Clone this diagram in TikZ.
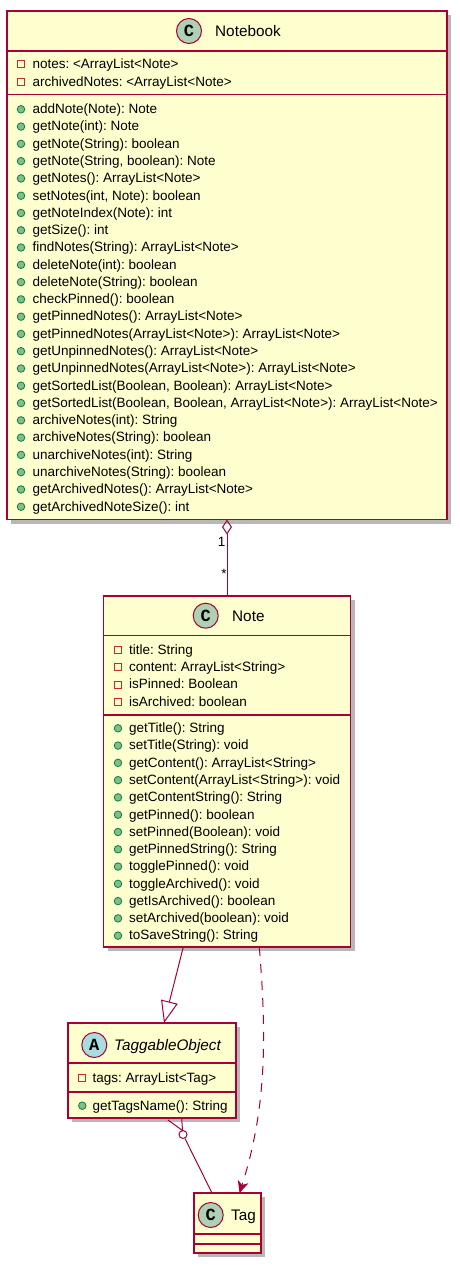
\documentclass[tikz,border=0pt]{standalone}
\usepackage{fontspec}
\setmainfont{Liberation Sans}
\newfontfamily\spotfont{Liberation Mono}
\usetikzlibrary{arrows.meta,shadows}
\definecolor{umlred}{HTML}{A80036}
\definecolor{umlfill}{HTML}{FEFECE}
\definecolor{spotC}{HTML}{ADD1B2}
\definecolor{spotA}{HTML}{A9DCDF}
\definecolor{privred}{HTML}{C82930}
\definecolor{pubfill}{HTML}{84BE84}
\definecolor{pubdraw}{HTML}{038048}
\frenchspacing
\begin{document}
\begin{tikzpicture}[x=1pt,y=-1pt,
 cls/.style={draw=umlred, fill=umlfill, line width=1.5pt, inner sep=0, outer sep=0,
   drop shadow={shadow xshift=4pt, shadow yshift=-4pt, fill=black, opacity=0.28}},
 sepline/.style={draw=umlred, line width=1.5pt},
 mem/.style={anchor=base west, inner sep=0, font=\fontsize{13.5}{15}\selectfont},
 ttl/.style={anchor=base west, inner sep=0, font=\fontsize{15.3}{18}\selectfont},
 spot/.style={circle, draw=umlred, line width=1pt, minimum size=25pt, inner sep=0,
   font=\spotfont\bfseries\fontsize{17}{17}\selectfont},
 priv/.style={draw=privred, line width=1pt, minimum size=7pt, inner sep=0},
 pub/.style={circle, draw=pubdraw, fill=pubfill, line width=0.8pt, minimum size=7.5pt, inner sep=0},
 link/.style={draw=umlred, line width=1pt},
 dashline/.style={dash pattern=on 9pt off 8pt},
 lbl/.style={inner sep=0, font=\fontsize{13.5}{15}\selectfont},
]
\useasboundingbox (0,0) rectangle (460,1266);

% ---------------- Notebook ----------------
\node[cls, minimum width=440pt, minimum height=508.5pt] (nb) at (227,265.25) {};
\draw[sepline] (nb.west |- 0,51) -- (nb.east |- 0,51);
\draw[sepline] (nb.west |- 0,94.3) -- (nb.east |- 0,94.3);
\node[spot, fill=spotC] (nbspot) at (189,31) {C};
\node[ttl] (nbtitle) at (215,36.3) {Notebook};
\foreach \t [count=\i] in {{notes: <ArrayList<Note>}, {archivedNotes: <ArrayList<Note>}} {
  \node[priv] (nbai\i) at (21,{64.3+17.28*(\i-1)}) {};
  \node[mem] (nba\i) at (32.3,{68.8+17.28*(\i-1)}) {\t};
}
\foreach \t [count=\i] in {
 {addNote(Note): Note},
 {getNote(int): Note},
 {getNote(String): boolean},
 {getNote(String, boolean): Note},
 {getNotes(): ArrayList<Note>},
 {setNotes(int, Note): boolean},
 {getNoteIndex(Note): int},
 {getSize(): int},
 {findNotes(String): ArrayList<Note>},
 {deleteNote(int): boolean},
 {deleteNote(String): boolean},
 {checkPinned(): boolean},
 {getPinnedNotes(): ArrayList<Note>},
 {getPinnedNotes(ArrayList<Note>): ArrayList<Note>},
 {getUnpinnedNotes(): ArrayList<Note>},
 {getUnpinnedNotes(ArrayList<Note>): ArrayList<Note>},
 {getSortedList(Boolean, Boolean): ArrayList<Note>},
 {getSortedList(Boolean, Boolean, ArrayList<Note>): ArrayList<Note>},
 {archiveNotes(int): String},
 {archiveNotes(String): boolean},
 {unarchiveNotes(int): String},
 {unarchiveNotes(String): boolean},
 {getArchivedNotes(): ArrayList<Note>},
 {getArchivedNoteSize(): int}} {
  \node[pub] (nbmi\i) at (21,{109.3+17.28*(\i-1)}) {};
  \node[mem] (nbm\i) at (32.3,{113.6+17.28*(\i-1)}) {\t};
}

% ---------------- Note ----------------
\node[cls, minimum width=247pt, minimum height=351pt] (note) at (227,771.5) {};
\draw[sepline] (note.west |- 0,635.7) -- (note.east |- 0,635.7);
\draw[sepline] (note.west |- 0,715) -- (note.east |- 0,715);
\node[spot, fill=spotC] (notespot) at (205.7,615.7) {C};
\node[ttl] (notetitle) at (232,621) {Note};
\foreach \t [count=\i] in {{title: String}, {content: ArrayList<String>}, {isPinned: Boolean}, {isArchived: boolean}} {
  \node[priv] (noteai\i) at (118,{650+17.28*(\i-1)}) {};
  \node[mem] (notea\i) at (129,{654.4+17.28*(\i-1)}) {\t};
}
\foreach \t [count=\i] in {
 {getTitle(): String},
 {setTitle(String): void},
 {getContent(): ArrayList<String>},
 {setContent(ArrayList<String>): void},
 {getContentString(): String},
 {getPinned(): boolean},
 {setPinned(Boolean): void},
 {getPinnedString(): String},
 {togglePinned(): void},
 {toggleArchived(): void},
 {getIsArchived(): boolean},
 {setArchived(boolean): void},
 {toSaveString(): String}} {
  \node[pub] (notemi\i) at (118,{728.3+17.28*(\i-1)}) {};
  \node[mem] (notem\i) at (129,{732.6+17.28*(\i-1)}) {\t};
}

% ---------------- TaggableObject ----------------
\node[cls, minimum width=168pt, minimum height=95pt] (tob) at (152,1070.5) {};
\draw[sepline] (tob.west |- 0,1063) -- (tob.east |- 0,1063);
\draw[sepline] (tob.west |- 0,1092) -- (tob.east |- 0,1092);
\node[spot, fill=spotA] (tobspot) at (94.3,1045) {A};
\node[ttl, font=\fontsize{15.3}{18}\selectfont\itshape] (tobtitle) at (114,1050) {TaggableObject};
\node[priv] (tobai1) at (82.3,1078.3) {};
\node[mem] (toba1) at (92.3,1082.6) {tags: ArrayList<Tag>};
\node[pub] (tobmi1) at (82.3,1105.7) {};
\node[mem] (tobm1) at (92.3,1110) {getTagsName(): String};

% ---------------- Tag ----------------
\node[cls, minimum width=67pt, minimum height=60pt] (tag) at (227.5,1223) {};
\draw[sepline] (tag.west |- 0,1234) -- (tag.east |- 0,1234);
\draw[sepline] (tag.west |- 0,1244) -- (tag.east |- 0,1244);
\node[spot, fill=spotC] (tagspot) at (210.7,1215) {C};
\node[ttl] (tagtitle) at (231,1220.5) {Tag};

% ---------------- Connectors ----------------
\draw[link, {Diamond[open, length=15pt, width=10pt]}-] (nb.south) -- (note.north);
\node[lbl] (mult1) at (221.7,541.7) {1};
\node[lbl] (multstar) at (224,574) {*};

\draw[link, -{Triangle[open, length=22pt, width=17pt]}]
  ([xshift=-43.7pt]note.south) -- ([xshift=12pt]tob.north);

\draw[link, dashline, -{Stealth[length=12pt, width=11pt, inset=3.5pt]}]
  ([xshift=32.3pt]note.south) .. controls (267,1040) and (266,1110) .. ([xshift=12pt]tag.north);

\node[circle, draw=umlred, line width=1pt, minimum size=8pt, inner sep=0, fill=white] (crowO) at (183,1134.5) {};
\coordinate (cfapex) at (182.5,1130.5);
\coordinate (cfleft) at (168,1120);
\coordinate (cfmid) at (181.7,1118.5);
\draw[link] (crowO) -- ([xshift=-15.5pt]tag.north);
\draw[link] (cfleft) -- (cfapex) -- (cfmid);
\end{tikzpicture}
\end{document}
